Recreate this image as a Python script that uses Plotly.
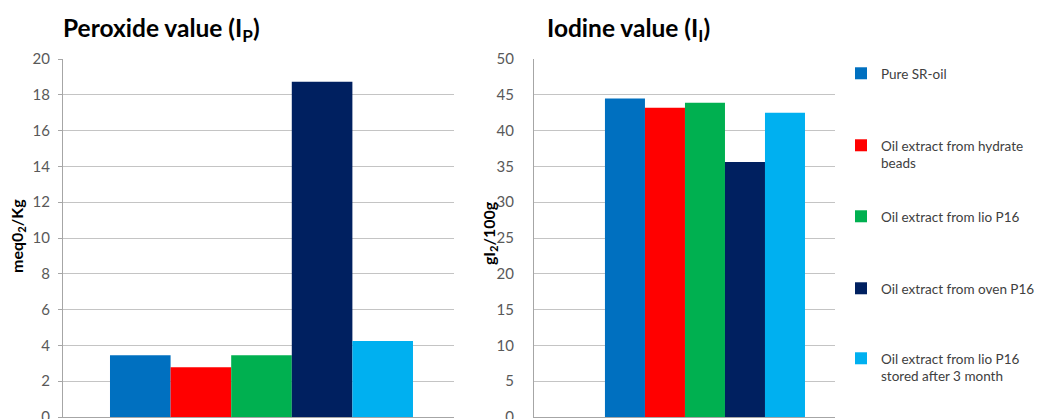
import plotly.graph_objects as go

series_names = [
    "Pure SR-oil",
    "Oil extract from hydrate<br>beads",
    "Oil extract from lio P16",
    "Oil extract from oven P16",
    "Oil extract from lio P16<br>stored after 3 month",
]
series_colors = ["#0070C0", "#FF0000", "#00B050", "#002060", "#00B0F0"]
peroxide_values = [3.45, 2.78, 3.45, 18.73, 4.25]
iodine_values = [44.5, 43.2, 43.9, 35.6, 42.5]
peroxide_ticks = list(range(0, 21, 2))
iodine_ticks = list(range(0, 51, 5))

W, H = 1059, 419
OFF = 8  # page body margin offset
FONT = "Lato"

fig = go.Figure()

legend_ids = ["legend", "legend2", "legend3", "legend4", "legend5"]
for i, (name, col) in enumerate(zip(series_names, series_colors)):
    fig.add_trace(go.Bar(x=[0], y=[peroxide_values[i]], name=name, marker=dict(color=col, line=dict(width=0)),
                         xaxis="x", yaxis="y", showlegend=True, legend=legend_ids[i]))
    fig.add_trace(go.Bar(x=[0], y=[iodine_values[i]], name=name, marker=dict(color=col, line=dict(width=0)),
                         xaxis="x2", yaxis="y2", showlegend=False))

def px_x(p):
    return (p - OFF) / W

def px_y(p):
    return (H - (p - OFF)) / H

ydom = [px_y(417), px_y(59)]
grid = "#C4C4C4"
axc = "#A6A6A6"
tickfont = dict(family=FONT, size=15, color="#595959")

layout = dict(
    width=W, height=H,
    margin=dict(l=0, r=0, t=0, b=0, autoexpand=False),
    paper_bgcolor="white", plot_bgcolor="white",
    barmode="group", bargap=0.25, bargroupgap=0,
    font=dict(family=FONT),
    xaxis=dict(domain=[px_x(63), px_x(454)], range=[-0.4913, 0.4765], showticklabels=False,
               showgrid=False, zeroline=False, showline=True, linecolor=axc, linewidth=1, automargin=False),
    yaxis=dict(domain=ydom, range=[0, 20], tickvals=peroxide_ticks, showgrid=True, gridcolor=grid, gridwidth=1,
               zeroline=False, showline=True, linecolor=axc, linewidth=1, ticks="outside", ticklen=4,
               tickcolor=axc, tickfont=tickfont, ticklabelstandoff=5, anchor="x", automargin=False),
    xaxis2=dict(domain=[px_x(534), px_x(835)], range=[-0.641, 0.4875], showticklabels=False,
                showgrid=False, zeroline=False, showline=True, linecolor=axc, linewidth=1, anchor="y2",
                automargin=False),
    yaxis2=dict(domain=ydom, range=[0, 50], tickvals=iodine_ticks, showgrid=True, gridcolor=grid, gridwidth=1,
                zeroline=False, showline=True, linecolor=axc, linewidth=1, ticks="", tickfont=tickfont,
                ticklabelstandoff=16, anchor="x2", automargin=False),
)

legend_first_line_y = [73, 145, 216, 288, 358]
for lid, yc in zip(legend_ids, legend_first_line_y):
    layout[lid] = dict(x=px_x(841), xanchor="left", y=px_y(yc - 15), yanchor="top",
                       font=dict(family=FONT, size=13.5, color="#404040"), bgcolor="rgba(0,0,0,0)",
                       valign="top", itemclick=False, itemdoubleclick=False)

fig.update_layout(**layout)

annots = [
    dict(text="<b>Peroxide value (I<sub>P</sub>)</b>", x=px_x(61), y=px_y(30), xanchor="left", yanchor="middle",
         font=dict(family=FONT, size=24.5, color="#000000")),
    dict(text="<b>Iodine value (I<sub>I</sub>)</b>", x=px_x(545), y=px_y(30), xanchor="left", yanchor="middle",
         font=dict(family=FONT, size=24.5, color="#000000")),
    dict(text="<b>meq0<sub>2</sub>/Kg</b>", x=px_x(17), y=px_y(236), xanchor="center", yanchor="middle",
         textangle=-90, font=dict(family=FONT, size=16, color="#000000")),
    dict(text="<b>gI<sub>2</sub>/100g</b>", x=px_x(490), y=px_y(233), xanchor="center", yanchor="middle",
         textangle=-90, font=dict(family=FONT, size=16, color="#000000")),
]
for a in annots:
    a.update(xref="paper", yref="paper", showarrow=False)
    fig.add_annotation(**a)

fig.write_html("out.html")
